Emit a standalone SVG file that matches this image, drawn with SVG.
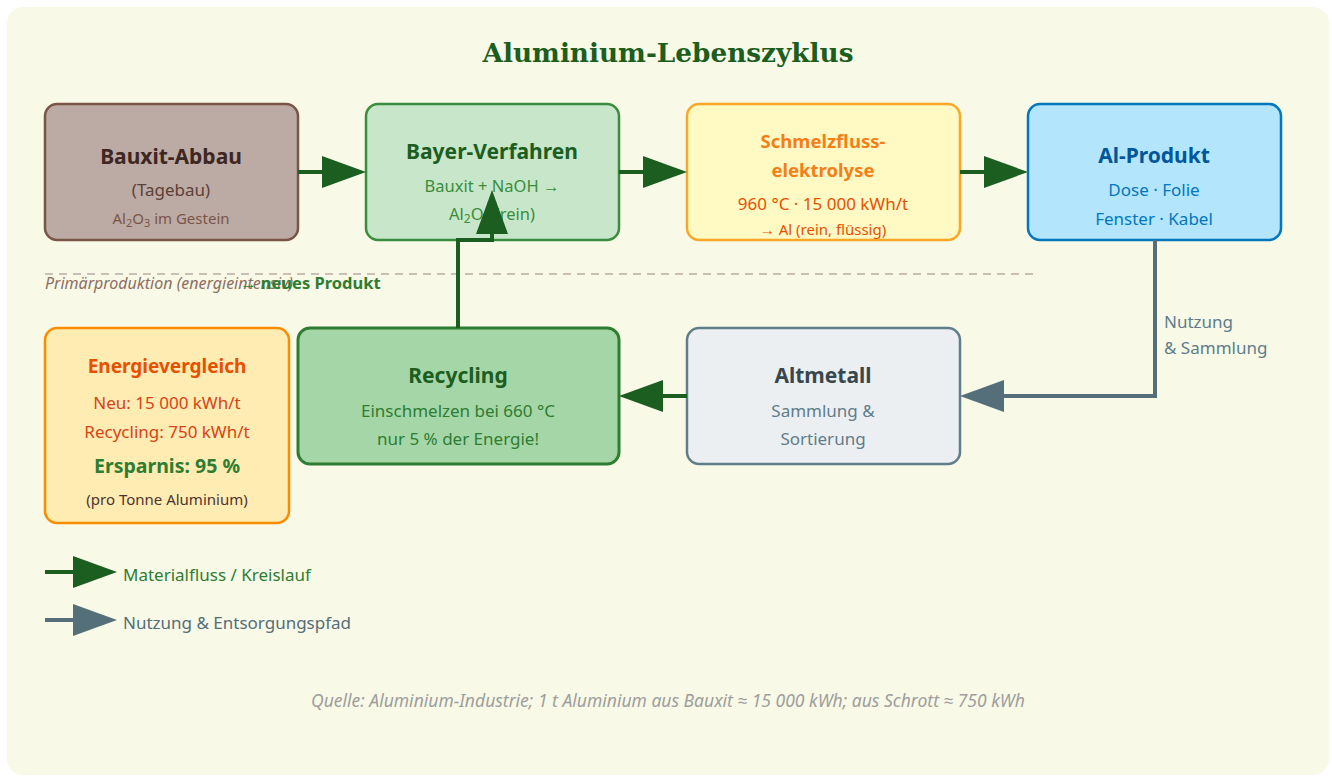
<svg xmlns="http://www.w3.org/2000/svg" width="1332" height="776" viewBox="0 0 1332 776">
<defs>
<style>
text{font-family:"Noto Sans","Open Sans",sans-serif;text-anchor:middle}
.t{font-size:21px;font-weight:bold}
.s{font-size:17px}
.xs{font-size:15px}
.box{stroke-width:2.5}
.g{fill:none;stroke:#1b5e20;stroke-width:4}
.gr{fill:none;stroke:#546e7a;stroke-width:4}
</style>
<marker id="ag" markerUnits="userSpaceOnUse" markerWidth="46" markerHeight="34" refX="0" refY="17" orient="auto"><path d="M0,1 L44,17 L0,33 z" fill="#1b5e20"/></marker>
<marker id="agr" markerUnits="userSpaceOnUse" markerWidth="46" markerHeight="34" refX="0" refY="17" orient="auto"><path d="M0,1 L44,17 L0,33 z" fill="#546e7a"/></marker>
</defs>
<rect x="7" y="7" width="1322" height="768" rx="16" fill="#f8f9e6"/>
<text x="668" y="62" style="font-family:'DejaVu Serif','Liberation Serif',serif;font-size:26.3px;font-weight:bold" fill="#1b5e20">Aluminium-Lebenszyklus</text>

<g id="bauxit">
<rect class="box" x="45" y="104" width="253" height="136" rx="12" fill="#bcaaa4" stroke="#795548"/>
<text x="171" y="164" class="t" fill="#3e2723">Bauxit-Abbau</text>
<text x="171" y="196" class="s" fill="#5d4037">(Tagebau)</text>
<text x="171" y="224" class="xs" fill="#795548">Al<tspan font-size="11" dy="3">2</tspan><tspan dy="-3">O</tspan><tspan font-size="11" dy="3">3</tspan><tspan dy="-3"> im Gestein</tspan></text>
</g>

<g id="bayer">
<rect class="box" x="366" y="104" width="253" height="136" rx="12" fill="#c8e6c9" stroke="#388e3c"/>
<text x="492" y="159" class="t" fill="#1b5e20">Bayer-Verfahren</text>
<text x="492" y="192" class="s" fill="#388e3c" style="font-size:16.5px">Bauxit + NaOH →</text>
<text x="492" y="220" class="s" fill="#388e3c" style="font-size:16.5px">Al<tspan font-size="12" dy="3">2</tspan><tspan dy="-3">O</tspan><tspan font-size="12" dy="3">3</tspan><tspan dy="-3"> (rein)</tspan></text>
</g>

<g id="schmelz">
<rect class="box" x="687" y="104" width="273" height="136" rx="12" fill="#fff9c4" stroke="#f9a825"/>
<text x="823" y="148" class="t" fill="#f57f17" style="font-size:18.5px">Schmelzfluss-</text>
<text x="823" y="177" class="t" fill="#f57f17" style="font-size:18.5px">elektrolyse</text>
<text x="823" y="210" class="s" fill="#e65100">960 °C · 15 000 kWh/t</text>
<text x="823" y="235" class="xs" fill="#e65100">→ Al (rein, flüssig)</text>
</g>

<g id="produkt">
<rect class="box" x="1028" y="104" width="253" height="136" rx="12" fill="#b3e5fc" stroke="#0277bd"/>
<text x="1154" y="163" class="t" fill="#01579b">Al-Produkt</text>
<text x="1154" y="196" class="s" fill="#0277bd">Dose · Folie</text>
<text x="1154" y="225" class="s" fill="#0277bd">Fenster · Kabel</text>
</g>

<g id="primaer">
<line x1="45" y1="274" x2="1035" y2="274" stroke="#bcaaa4" stroke-width="1.5" stroke-dasharray="8,6"/>
<text x="45" y="289" fill="#8d6e63" style="text-anchor:start;font-style:italic;font-size:16px">Primärproduktion (energieintensiv)</text>
<text x="240" y="289" fill="#2e7d32" style="text-anchor:start;font-weight:bold;font-size:16.5px">→ neues Produkt</text>
</g>

<g id="energie">
<rect class="box" x="45" y="328" width="244" height="195" rx="12" fill="#ffecb3" stroke="#fb8c00"/>
<text x="167" y="373" class="t" fill="#e65100" style="font-size:19px">Energievergleich</text>
<text x="167" y="409" class="s" fill="#d84315">Neu: 15 000 kWh/t</text>
<text x="167" y="438" class="s" fill="#d84315">Recycling: 750 kWh/t</text>
<text x="167" y="473" class="t" fill="#2e7d32" style="font-size:19.5px">Ersparnis: 95 %</text>
<text x="167" y="505" class="xs" fill="#4e342e">(pro Tonne Aluminium)</text>
</g>

<g id="recycling">
<rect x="298" y="328" width="321" height="136" rx="12" fill="#a5d6a7" stroke="#2e7d32" stroke-width="3"/>
<text x="458" y="383" class="t" fill="#1b5e20">Recycling</text>
<text x="458" y="417" class="s" fill="#2e7d32">Einschmelzen bei 660 °C</text>
<text x="458" y="445" class="s" fill="#2e7d32">nur 5 % der Energie!</text>
</g>

<g id="altmetall">
<rect class="box" x="687" y="328" width="273" height="136" rx="12" fill="#eceff1" stroke="#607d8b"/>
<text x="823" y="383" class="t" fill="#37474f">Altmetall</text>
<text x="823" y="417" class="s" fill="#607d8b">Sammlung &amp;</text>
<text x="823" y="445" class="s" fill="#607d8b">Sortierung</text>
</g>

<g id="connectors">
<path class="g" d="M298,172 H322" marker-end="url(#ag)"/>
<path class="g" d="M619,172 H643" marker-end="url(#ag)"/>
<path class="g" d="M960,172 H984" marker-end="url(#ag)"/>
<path class="gr" d="M1155,240 V396 H1004" marker-end="url(#agr)"/>
<path class="g" d="M687,396 H663" marker-end="url(#ag)"/>
<path class="g" d="M458,328 V240 H492 V234" marker-end="url(#ag)"/>
<text x="1164" y="328" class="s" fill="#607d8b" style="text-anchor:start">Nutzung</text>
<text x="1164" y="354" class="s" fill="#607d8b" style="text-anchor:start">&amp; Sammlung</text>
</g>

<g id="legend">
<path class="g" d="M45,572 H73" marker-end="url(#ag)"/>
<text x="123" y="581" class="s" fill="#2e7d32" style="text-anchor:start">Materialfluss / Kreislauf</text>
<path class="gr" d="M45,620 H73" marker-end="url(#agr)"/>
<text x="123" y="629" class="s" fill="#546e7a" style="text-anchor:start">Nutzung &amp; Entsorgungspfad</text>
</g>

<text x="668" y="707" style="font-size:17.5px;font-style:italic" fill="#9e9e9e">Quelle: Aluminium-Industrie; 1 t Aluminium aus Bauxit ≈ 15 000 kWh; aus Schrott ≈ 750 kWh</text>
</svg>
